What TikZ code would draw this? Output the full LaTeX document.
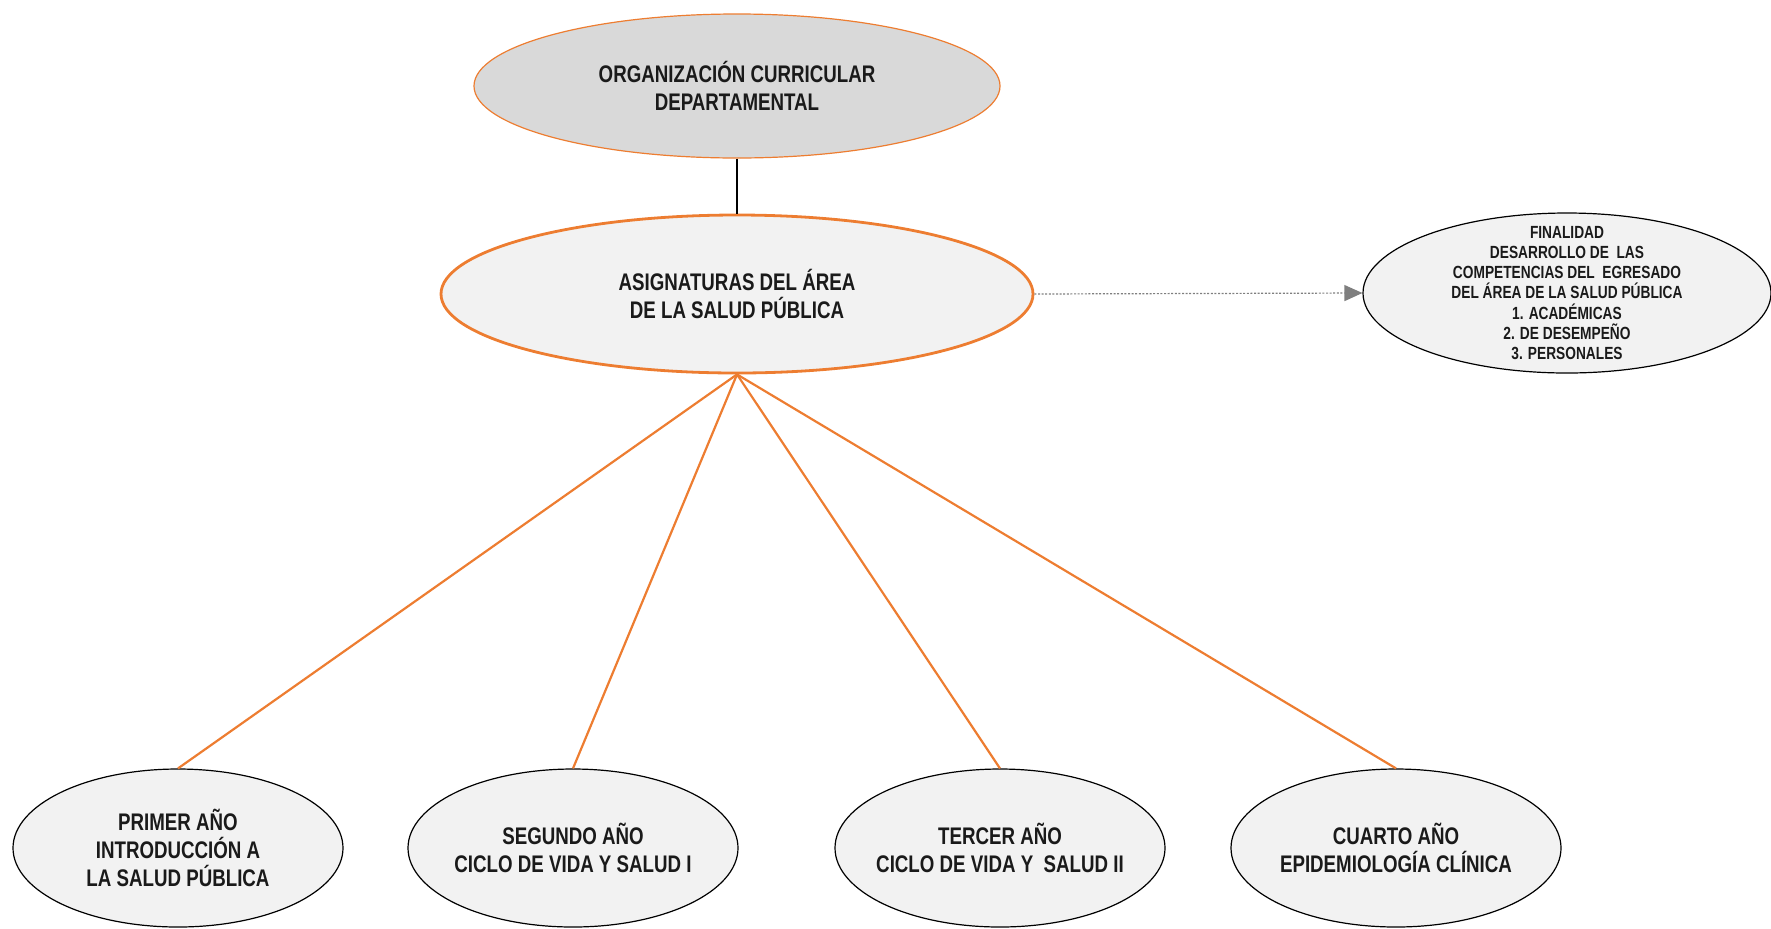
\documentclass[tikz,border=0pt]{standalone}
\usepackage{fontspec}
\newfontfamily\nar{Liberation Sans}[FakeStretch=0.78]
\usetikzlibrary{shapes.geometric,arrows.meta}
\definecolor{orng}{HTML}{ED7D31}
\definecolor{lgray}{HTML}{F2F2F2}
\definecolor{mgray}{HTML}{D9D9D9}
\definecolor{txt}{HTML}{1A1A1A}
\definecolor{arrgray}{HTML}{7F7F7F}
\tikzset{
  oval/.style={ellipse, inner xsep=-20pt, inner ysep=-12pt, align=center, text=txt,
    font=\nar\bfseries\fontsize{12}{14}\selectfont},
  topoval/.style={oval, fill=mgray, draw=orng, line width=0.6pt,
    minimum width=263pt, minimum height=72pt},
  midoval/.style={oval, fill=lgray, draw=orng, line width=1.4pt,
    minimum width=296pt, minimum height=79pt},
  yearoval/.style={oval, fill=lgray, draw=black, line width=0.6pt,
    minimum width=165pt, minimum height=79pt},
  finoval/.style={oval, fill=lgray, draw=black, line width=0.6pt,
    minimum width=204pt, minimum height=80pt, inner ysep=-20pt,
    font=\nar\bfseries\fontsize{8.8}{10.1}\selectfont},
  branch/.style={draw=orng, line width=1.1pt},
  stem/.style={draw=black, line width=1pt},
  dotarrow/.style={draw=arrgray, line width=0.6pt, dash pattern=on 1pt off 0.8pt,
    -{Triangle[length=9pt,width=8pt,fill=arrgray]}}
}
\begin{document}
\begin{tikzpicture}[x=0.5pt,y=-0.5pt]
\useasboundingbox (0,0) rectangle (1771,928);
\node[topoval] (top) at (737,86) {ORGANIZACIÓN CURRICULAR\\DEPARTAMENTAL};
\node[midoval] (mid) at (737,294) {ASIGNATURAS DEL ÁREA\\DE LA SALUD PÚBLICA};
\node[finoval] (fin) at (1567,293) {FINALIDAD\\DESARROLLO DE\ \ LAS\\COMPETENCIAS DEL\ \ EGRESADO\\DEL ÁREA DE LA SALUD PÚBLICA\\1. ACADÉMICAS\\2. DE DESEMPEÑO\\3. PERSONALES};
\node[yearoval] (y1) at (178,848) {PRIMER AÑO\\INTRODUCCIÓN A\\LA SALUD PÚBLICA};
\node[yearoval] (y2) at (573,848) {SEGUNDO AÑO\\CICLO DE VIDA Y SALUD I};
\node[yearoval] (y3) at (1000,848) {TERCER AÑO\\CICLO DE VIDA Y\ \ SALUD II};
\node[yearoval] (y4) at (1396,848) {CUARTO AÑO\\EPIDEMIOLOGÍA CLÍNICA};
\draw[stem] (top) -- (mid);
\draw[branch] (mid.south) -- (y1.north);
\draw[branch] (mid.south) -- (y2.north);
\draw[branch] (mid.south) -- (y3.north);
\draw[branch] (mid.south) -- (y4.north);
\draw[dotarrow] (mid.east) -- (fin.west);
\end{tikzpicture}
\end{document}
